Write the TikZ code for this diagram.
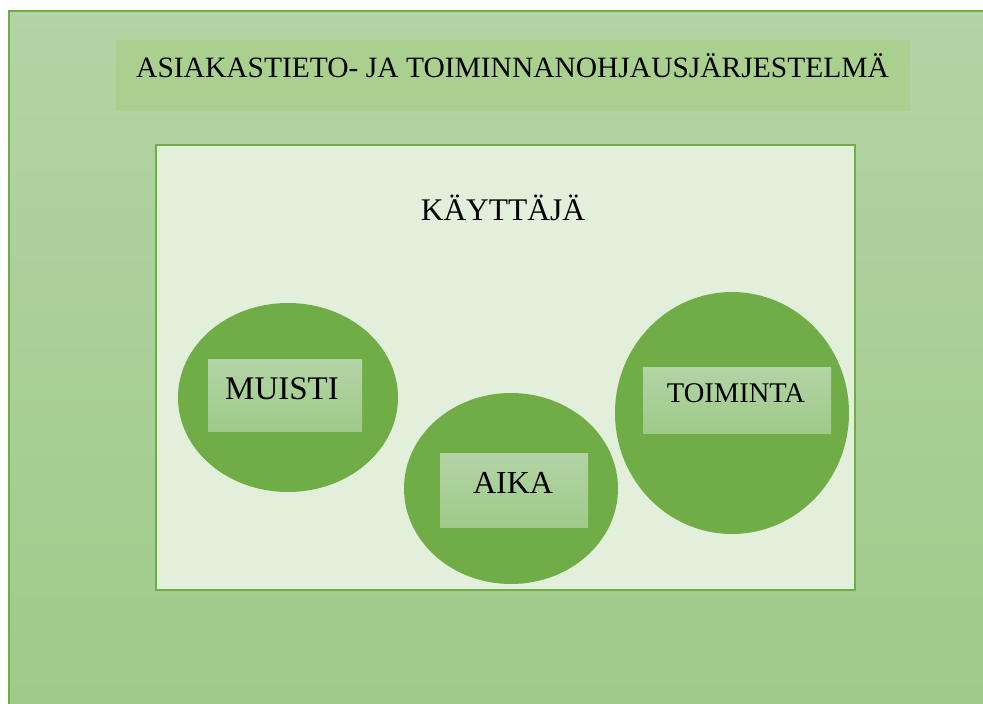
\documentclass[tikz,border=0pt]{standalone}
\usepackage{fontspec}
\setmainfont{Liberation Serif}
\usetikzlibrary{shapes.geometric}
\definecolor{gborder}{HTML}{70AD47}
\definecolor{gtop}{HTML}{B3D4A5}
\definecolor{gbot}{HTML}{9FCA89}
\definecolor{gtitle}{HTML}{A9D08E}
\definecolor{ginner}{HTML}{E2EFDA}
\definecolor{gcircle}{HTML}{70AD47}
\tikzset{
  outerbox/.style={draw=gborder, line width=2pt, top color=gtop, bottom color=gbot},
  titlebox/.style={fill=gtitle},
  innerbox/.style={draw=gborder, line width=2pt, fill=ginner},
  blob/.style={ellipse, fill=gcircle, inner sep=0pt},
  labelbox/.style={top color=gtop, bottom color=gbot, inner sep=0pt},
  bigtext/.style={font=\fontsize{29.5}{34}\selectfont, inner sep=0pt, anchor=base},
}
\begin{document}
\begin{tikzpicture}[x=1pt, y=-1pt]
\useasboundingbox (0,0) rectangle (983,704);
\clip (0,0) rectangle (983,704);
\path[outerbox] (9,10.5) rectangle (995,720);
\path[titlebox] (116,40) rectangle (910,111);
\node[bigtext, anchor=base west] (title) at (136,77) {ASIAKASTIETO- JA TOIMINNANOHJAUSJÄRJESTELMÄ};
\path[innerbox] (156,145) rectangle (855,590);
\node[bigtext, font=\fontsize{31.5}{36}\selectfont] (user) at (503,220) {KÄYTTÄJÄ};
% ellipses
\node[blob, minimum width=220pt, minimum height=189pt] (c1) at (288,397.5) {};
\node[blob, minimum width=214pt, minimum height=191pt] (c2) at (511,488.5) {};
\node[blob, minimum width=234pt, minimum height=242pt] (c3) at (732,413) {};
% label boxes
\path[labelbox] (208,359) rectangle (362,431);
\path[labelbox] (440,453) rectangle (588,527);
\path[labelbox] (643,367) rectangle (831,433);
\node[bigtext, font=\fontsize{33}{38}\selectfont] (muisti) at (282,399) {MUISTI};
\node[bigtext, font=\fontsize{32}{37}\selectfont] (aika) at (513,493) {AIKA};
\node[bigtext, font=\fontsize{28.5}{33}\selectfont] (toim) at (736,402) {TOIMINTA};
\end{tikzpicture}
\end{document}
